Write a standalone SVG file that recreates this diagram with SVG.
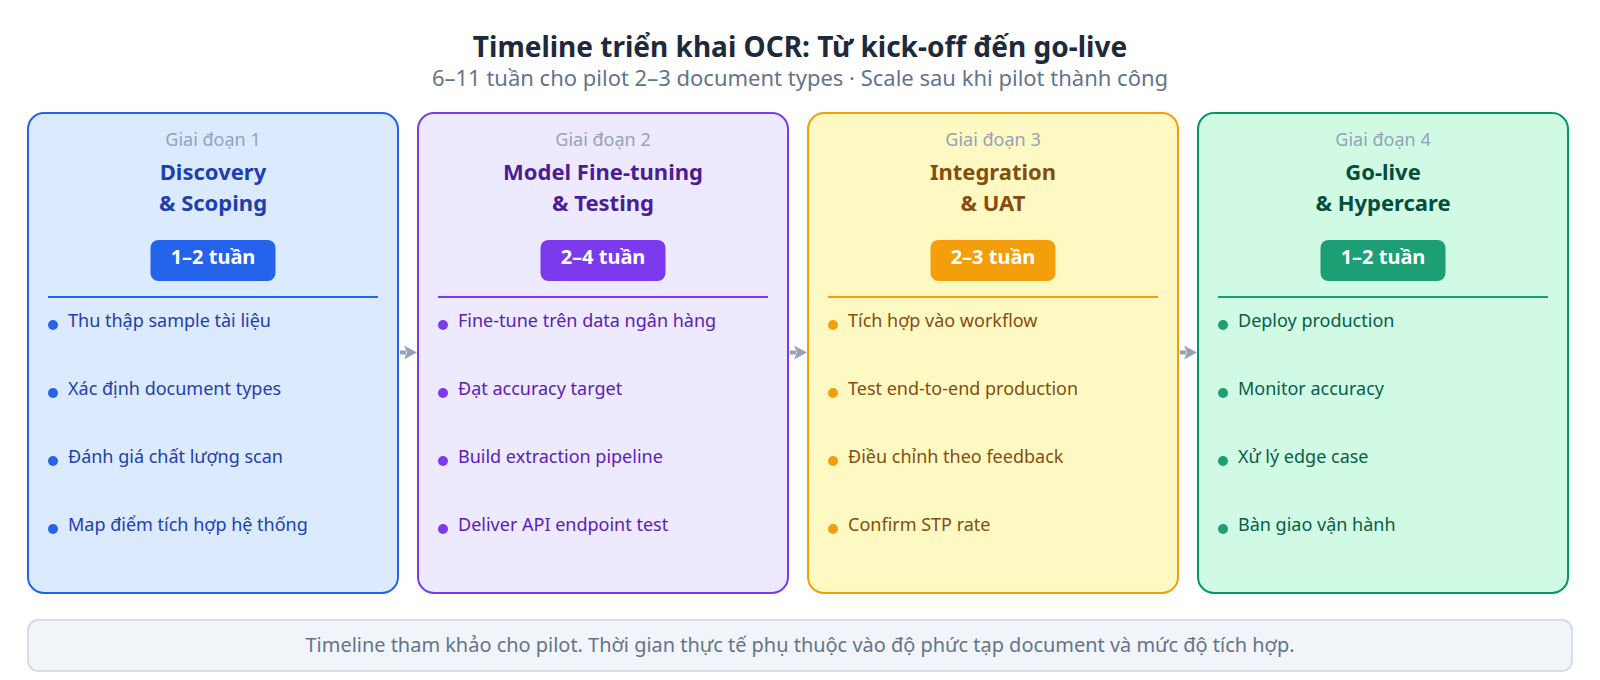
<svg xmlns="http://www.w3.org/2000/svg" width="1600" height="680" viewBox="0 0 1600 680">
<defs>
<style>
text{font-family:"Noto Sans","Open Sans","DejaVu Sans",sans-serif}
.title{font-size:28px;font-weight:700;fill:#1e293b;text-anchor:middle}
.sub{font-size:22px;fill:#64748b;text-anchor:middle}
.phase{font-size:18px;fill:#94a3b8;text-anchor:middle}
.ctitle{font-size:22px;font-weight:700;text-anchor:middle}
.badge-t{font-size:20px;font-weight:700;fill:#ffffff;text-anchor:middle}
.item{font-size:18px}
.card{stroke-width:2}
.foot{font-size:20px;fill:#64748b;text-anchor:middle}
.b1{fill:#dbeafe;stroke:#2563eb}.c1{fill:#1e40af}.k1{fill:#2563eb}.s1{stroke:#2563eb}
.b2{fill:#ede9fe;stroke:#7c3aed}.c2{fill:#4c1d95}.i2{fill:#5b21b6}.k2{fill:#7c3aed}.s2{stroke:#7c3aed}
.b3{fill:#fef9c3;stroke:#f59e0b}.c3{fill:#854d0e}.k3{fill:#f59e0b}.s3{stroke:#f59e0b}
.b4{fill:#d1fae5;stroke:#059669}.c4{fill:#064e3b}.i4{fill:#065f46}.k4{fill:#1e9e74}.s4{stroke:#1e9e74}
.arrow{fill:#94a3b8}
</style>
</defs>
<rect width="1600" height="680" fill="#ffffff"/>
<g id="header">
<text class="title" x="800" y="57">Timeline triển khai OCR: Từ kick-off đến go-live</text>
<text class="sub" x="800" y="86">6–11 tuần cho pilot 2–3 document types · Scale sau khi pilot thành công</text>
</g>
<g id="phase1">
<rect class="card b1" x="28" y="113" width="370" height="480" rx="16"/>
<text class="phase" x="213" y="146">Giai đoạn 1</text>
<text class="ctitle c1" x="213" y="180">Discovery</text>
<text class="ctitle c1" x="213" y="211">&amp; Scoping</text>
<rect class="k1" x="150.5" y="240" width="125" height="41" rx="8"/>
<text class="badge-t" x="213" y="264">1–2 tuần</text>
<line class="s1" x1="48" y1="297" x2="378" y2="297" stroke-width="2"/>
<circle cx="53" cy="325" r="5" class="k1"/><text class="item c1" x="68" y="327">Thu thập sample tài liệu</text>
<circle cx="53" cy="393" r="5" class="k1"/><text class="item c1" x="68" y="395">Xác định document types</text>
<circle cx="53" cy="461" r="5" class="k1"/><text class="item c1" x="68" y="463">Đánh giá chất lượng scan</text>
<circle cx="53" cy="529" r="5" class="k1"/><text class="item c1" x="68" y="531">Map điểm tích hợp hệ thống</text>
</g>
<g id="phase2">
<rect class="card b2" x="418" y="113" width="370" height="480" rx="16"/>
<text class="phase" x="603" y="146">Giai đoạn 2</text>
<text class="ctitle c2" x="603" y="180">Model Fine-tuning</text>
<text class="ctitle c2" x="603" y="211">&amp; Testing</text>
<rect class="k2" x="540.5" y="240" width="125" height="41" rx="8"/>
<text class="badge-t" x="603" y="264">2–4 tuần</text>
<line class="s2" x1="438" y1="297" x2="768" y2="297" stroke-width="2"/>
<circle cx="443" cy="325" r="5" class="k2"/><text class="item i2" x="458" y="327">Fine-tune trên data ngân hàng</text>
<circle cx="443" cy="393" r="5" class="k2"/><text class="item i2" x="458" y="395">Đạt accuracy target</text>
<circle cx="443" cy="461" r="5" class="k2"/><text class="item i2" x="458" y="463">Build extraction pipeline</text>
<circle cx="443" cy="529" r="5" class="k2"/><text class="item i2" x="458" y="531">Deliver API endpoint test</text>
</g>
<g id="phase3">
<rect class="card b3" x="808" y="113" width="370" height="480" rx="16"/>
<text class="phase" x="993" y="146">Giai đoạn 3</text>
<text class="ctitle c3" x="993" y="180">Integration</text>
<text class="ctitle c3" x="993" y="211">&amp; UAT</text>
<rect class="k3" x="930.5" y="240" width="125" height="41" rx="8"/>
<text class="badge-t" x="993" y="264">2–3 tuần</text>
<line class="s3" x1="828" y1="297" x2="1158" y2="297" stroke-width="2"/>
<circle cx="833" cy="325" r="5" class="k3"/><text class="item c3" x="848" y="327">Tích hợp vào workflow</text>
<circle cx="833" cy="393" r="5" class="k3"/><text class="item c3" x="848" y="395">Test end-to-end production</text>
<circle cx="833" cy="461" r="5" class="k3"/><text class="item c3" x="848" y="463">Điều chỉnh theo feedback</text>
<circle cx="833" cy="529" r="5" class="k3"/><text class="item c3" x="848" y="531">Confirm STP rate</text>
</g>
<g id="phase4">
<rect class="card b4" x="1198" y="113" width="370" height="480" rx="16"/>
<text class="phase" x="1383" y="146">Giai đoạn 4</text>
<text class="ctitle c4" x="1383" y="180">Go-live</text>
<text class="ctitle c4" x="1383" y="211">&amp; Hypercare</text>
<rect class="k4" x="1320.5" y="240" width="125" height="41" rx="8"/>
<text class="badge-t" x="1383" y="264">1–2 tuần</text>
<line class="s4" x1="1218" y1="297" x2="1548" y2="297" stroke-width="2"/>
<circle cx="1223" cy="325" r="5" class="k4"/><text class="item i4" x="1238" y="327">Deploy production</text>
<circle cx="1223" cy="393" r="5" class="k4"/><text class="item i4" x="1238" y="395">Monitor accuracy</text>
<circle cx="1223" cy="461" r="5" class="k4"/><text class="item i4" x="1238" y="463">Xử lý edge case</text>
<circle cx="1223" cy="529" r="5" class="k4"/><text class="item i4" x="1238" y="531">Bàn giao vận hành</text>
</g>
<g id="connectors">
<g>
<rect class="arrow" x="400" y="350.5" width="6" height="4"/>
<polygon class="arrow" points="404,345.5 417,352.5 404,359.5 407,352.5"/>
</g>
<g transform="translate(390,0)">
<rect class="arrow" x="400" y="350.5" width="6" height="4"/>
<polygon class="arrow" points="404,345.5 417,352.5 404,359.5 407,352.5"/>
</g>
<g transform="translate(780,0)">
<rect class="arrow" x="400" y="350.5" width="6" height="4"/>
<polygon class="arrow" points="404,345.5 417,352.5 404,359.5 407,352.5"/>
</g>
</g>
<g id="footer">
<rect x="28" y="620" width="1544" height="51" rx="10" fill="#f1f5f9" stroke="#cbd5e1" stroke-width="1.5"/>
<text class="foot" x="800" y="652" textLength="989" lengthAdjust="spacingAndGlyphs">Timeline tham khảo cho pilot. Thời gian thực tế phụ thuộc vào độ phức tạp document và mức độ tích hợp.</text>
</g>
</svg>
